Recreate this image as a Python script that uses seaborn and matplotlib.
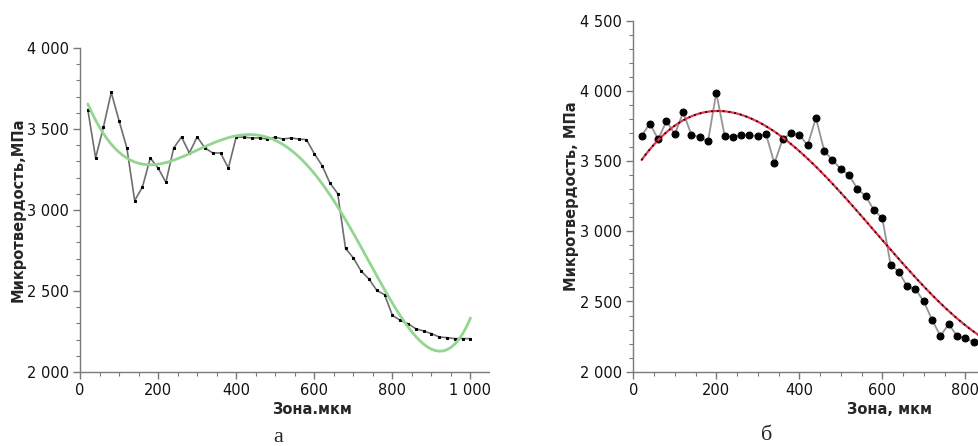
import numpy as np
import pandas as pd
import matplotlib
matplotlib.use("Agg")
import matplotlib.pyplot as plt
import seaborn as sns
from matplotlib.ticker import MultipleLocator, FuncFormatter
from matplotlib.patches import Rectangle

# panel а: microhardness along the zone, step 20 um
zone_a = list(range(20, 1001, 20))
hv_a = [3620, 3321, 3512, 3726, 3551, 3383, 3058, 3142, 3321, 3259,
        3171, 3383, 3451, 3352, 3451, 3383, 3352, 3352, 3259, 3451,
        3449, 3445, 3445, 3438, 3449, 3438, 3445, 3438, 3434, 3348,
        3274, 3167, 3101, 2763, 2704, 2623, 2574, 2504, 2477, 2350,
        2319, 2298, 2267, 2253, 2237, 2216, 2212, 2206, 2206, 2206]

# panel б (the source picture is cut off past ~830 um; tail estimated)
zone_b = list(range(20, 1001, 20))
hv_b = [3681, 3767, 3655, 3786, 3690, 3848, 3688, 3669, 3640, 3988,
        3681, 3671, 3686, 3683, 3679, 3690, 3483, 3657, 3698, 3688,
        3612, 3807, 3574, 3507, 3443, 3400, 3302, 3250, 3150, 3095,
        2762, 2712, 2607, 2588, 2500, 2369, 2255, 2338, 2255, 2238,
        2212, 2205, 2200, 2195, 2190, 2190, 2185, 2180, 2180, 2180]

df_a = pd.DataFrame({"zone": zone_a, "hv": hv_a})
df_b = pd.DataFrame({"zone": zone_b, "hv": hv_b})

sns.set_style("white")
plt.rcParams["font.family"] = ["DejaVu Sans"]

W, H = 979, 446
fig = plt.figure(figsize=(W / 100, H / 100), dpi=100)

def px_axes(x0, x1, ytop, ybot):
    return fig.add_axes([x0 / W, (H - ybot) / H, (x1 - x0) / W, (ybot - ytop) / H])

ax1 = px_axes(80, 490, 48, 372)
ax2 = px_axes(633.3, 633.3 + 1050 * 0.415, 20.7, 371.7)

spine_col = "#7a7a7a"
thousands = FuncFormatter(lambda v, p: f"{int(v):,}".replace(",", " "))

def style(ax, ymin, ymax):
    ax.set_xlim(0, 1050)
    ax.set_ylim(ymin, ymax)
    for s in ["top", "right"]:
        ax.spines[s].set_visible(False)
    for s in ["left", "bottom"]:
        ax.spines[s].set_color(spine_col)
        ax.spines[s].set_linewidth(1.0)
    ax.xaxis.set_major_locator(MultipleLocator(200))
    ax.xaxis.set_minor_locator(MultipleLocator(50))
    ax.yaxis.set_major_locator(MultipleLocator(500))
    ax.yaxis.set_minor_locator(MultipleLocator(100))
    ax.xaxis.set_major_formatter(thousands)
    ax.yaxis.set_major_formatter(thousands)
    ax.tick_params(which="major", length=5, width=1, color=spine_col,
                   labelsize=10.5, labelcolor="#111111", pad=3)
    ax.tick_params(which="minor", length=3, width=0.8, color=spine_col)
    ax.tick_params(axis="both", which="both", direction="out",
                   bottom=True, left=True)

# panel а
sns.lineplot(data=df_a, x="zone", y="hv", ax=ax1, color="#6e6e6e", lw=1.2,
             marker="s", markersize=1.6, markerfacecolor="black",
             markeredgecolor="black")
sns.regplot(data=df_a, x="zone", y="hv", ax=ax1, order=5, scatter=False,
            ci=None, truncate=True, line_kws={"color": "#93d68f", "lw": 2})
style(ax1, 2000, 4000)
ax1.set_xlabel("Зона.мкм", fontsize=10.5, fontweight="bold")
ax1.set_ylabel("Микротвердость,МПа", fontsize=10.5, fontweight="bold")
ax1.xaxis.set_label_coords((312 - 80) / 410, -(402 - 372) / 324)
ax1.yaxis.set_label_coords(-(80 - 26) / 410, 0.5)

# panel б
sns.lineplot(data=df_b, x="zone", y="hv", ax=ax2, color="#959595", lw=1.3,
             marker="o", markersize=5, markerfacecolor="black",
             markeredgecolor="black")
sns.regplot(data=df_b, x="zone", y="hv", ax=ax2, order=3, scatter=False,
            ci=None, truncate=True, line_kws={"color": "#e0364e", "lw": 1.6})
sns.regplot(data=df_b, x="zone", y="hv", ax=ax2, order=3, scatter=False,
            ci=None, truncate=True,
            line_kws={"color": "black", "lw": 1.2, "ls": (0, (1, 2.5))})
style(ax2, 2000, 4500)
ax2.set_xlabel("Зона, мкм", fontsize=10.5, fontweight="bold")
ax2.set_ylabel("Микротвердость, МПа", fontsize=10.5, fontweight="bold")
ax2.xaxis.set_label_coords((890 - 633.3) / (1050 * 0.415), -(402 - 371.7) / 351)
ax2.yaxis.set_label_coords(-(633.3 - 579) / (1050 * 0.415), 0.5)

# gap between the two cropped pictures
fig.add_artist(Rectangle((490 / W, 0), 65 / W, 1, transform=fig.transFigure,
                         facecolor="white", edgecolor="none", zorder=10))

fig.text(278 / W, 1 - 437 / H, "а", ha="center", va="center",
         fontsize=16, family="Liberation Serif")
fig.text(767 / W, 1 - 435 / H, "б", ha="center", va="center",
         fontsize=16, family="Liberation Serif")

fig.savefig("out.png", dpi=100)
